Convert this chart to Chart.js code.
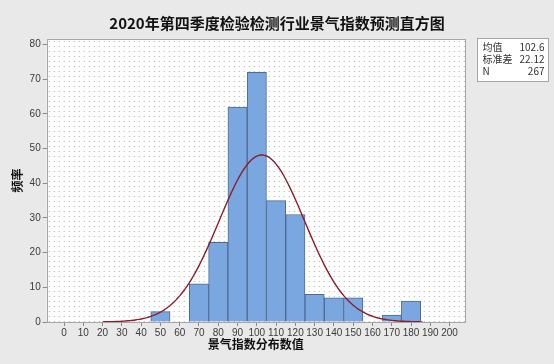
<!DOCTYPE html>
<html>
<head>
<meta charset="utf-8">
<script src="https://cdn.jsdelivr.net/npm/chart.js@4.4.1/dist/chart.umd.min.js"></script>
<style>
  html, body { margin: 0; padding: 0; background: #e9e9e9; }
  #wrap { width: 554px; height: 364px; position: relative; }
</style>
</head>
<body>
<div id="wrap"><canvas id="c" width="554" height="364"></canvas></div>
<script>
// Histogram bins (centre of each 10-wide bin) and their counts
const binCenters = [50, 60, 70, 80, 90, 100, 110, 120, 130, 140, 150, 160, 170, 180];
const binCounts  = [3, 0, 11, 23, 62, 72, 35, 31, 8, 7, 7, 0, 2, 6];
const binWidth = 10;

// Summary statistics shown in the legend box
const statLabels = ['均值', '标准差', 'N'];
const statValues = ['102.6', '22.12', '267'];
const fitMean = 102.6;
const fitSd = 22.12;
const fitN = 267;

// Axis tick labels
const xTicks = [0, 10, 20, 30, 40, 50, 60, 70, 80, 90, 100, 110, 120, 130, 140, 150, 160, 170, 180, 190, 200];
const yTicks = [0, 10, 20, 30, 40, 50, 60, 70, 80];

const chartTitle = '2020年第四季度检验检测行业景气指数预测直方图';

// Fitted normal curve, scaled to counts per bin
const curveXs = [];
for (let x = 20; x <= 186; x += 1) curveXs.push(x);
const curvePts = curveXs.map(x => ({
  x: x,
  y: fitN * binWidth / (fitSd * Math.sqrt(2 * Math.PI)) *
     Math.exp(-0.5 * Math.pow((x - fitMean) / fitSd, 2))
}));

const barPts = binCenters
  .map((c, i) => ({ x: c, y: binCounts[i] }))
  .filter(p => p.y > 0);

const tickFont = { family: '"Liberation Sans", sans-serif', size: 10 };

// dotted plot-area background
function dotPattern(ctx) {
  const p = document.createElement('canvas');
  p.width = 5; p.height = 5;
  const g = p.getContext('2d');
  g.fillStyle = '#ffffff';
  g.fillRect(0, 0, 5, 5);
  g.fillStyle = '#b0b0b0';
  g.fillRect(2, 2, 1, 1);
  return ctx.createPattern(p, 'repeat');
}

const frame = {
  id: 'frame',
  beforeDraw(chart) {
    const { ctx, chartArea: a } = chart;
    ctx.save();
    ctx.fillStyle = '#e9e9e9';
    ctx.fillRect(0, 0, chart.width, chart.height);
    ctx.fillStyle = dotPattern(ctx);
    ctx.translate(a.left, a.top);
    ctx.fillRect(0, 0, a.right - a.left, a.bottom - a.top);
    ctx.restore();
  },
  afterDraw(chart) {
    const { ctx, chartArea: a } = chart;
    ctx.save();
    // chart title
    ctx.fillStyle = '#111111';
    ctx.font = 'bold 15px "Noto Sans CJK SC", sans-serif';
    ctx.textAlign = 'center';
    ctx.textBaseline = 'middle';
    ctx.fillText(chartTitle, 277, 23);
    // plot frame
    ctx.strokeStyle = '#a6a6a6';
    ctx.lineWidth = 1;
    ctx.strokeRect(Math.round(a.left) + 0.5, Math.round(a.top) + 0.5,
                   Math.round(a.right - a.left), Math.round(a.bottom - a.top));
    // statistics box
    const bx = 477.5, by = 38.5, bw = 71, bh = 43;
    ctx.fillStyle = '#ffffff';
    ctx.fillRect(bx, by, bw, bh);
    ctx.strokeStyle = '#a6a6a6';
    ctx.strokeRect(bx, by, bw, bh);
    ctx.fillStyle = '#333333';
    ctx.font = '10px "Noto Sans CJK SC", "Open Sans", sans-serif';
    ctx.textBaseline = 'middle';
    statLabels.forEach((lab, i) => {
      const y = by + 9 + i * 12;
      ctx.textAlign = 'left';
      ctx.fillText(lab, bx + 5, y);
      ctx.textAlign = 'right';
      ctx.fillText(statValues[i], bx + bw - 4, y);
    });
    ctx.restore();
  }
};

new Chart(document.getElementById('c'), {
  type: 'bar',
  data: {
    datasets: [
      {
        type: 'line',
        data: curvePts,
        borderColor: '#8c1c2c',
        borderWidth: 1.4,
        pointRadius: 0,
        tension: 0,
        fill: false,
        order: 0
      },
      {
        type: 'bar',
        data: barPts,
        backgroundColor: '#7ba7e0',
        borderColor: '#4d6a91',
        borderWidth: 1,
        borderSkipped: 'bottom',
        barPercentage: 1,
        categoryPercentage: 1,
        order: 1
      }
    ]
  },
  options: {
    responsive: false,
    animation: false,
    layout: { padding: { left: 0, right: 89, top: 39, bottom: 0 } },
    plugins: {
      legend: { display: false },
      tooltip: { enabled: false },
      title: { display: false }
    },
    scales: {
      x: {
        type: 'linear',
        min: -9,
        max: 208,
        offset: false,
        afterBuildTicks(s) { s.ticks = xTicks.map(v => ({ value: v })); },
        afterFit(s) { s.height = 42; },
        grid: { display: true, drawOnChartArea: false, offset: false, tickLength: 4, color: '#8a8a8a' },
        border: { display: false },
        ticks: {
          color: '#3a3a3a',
          padding: 1,
          maxRotation: 0,
          autoSkip: false,
          font: tickFont
        },
        title: {
          display: true,
          text: '景气指数分布数值',
          color: '#111111',
          padding: { top: 0, bottom: 12 },
          font: { family: '"Noto Sans CJK SC", sans-serif', size: 12, weight: 'bold' }
        }
      },
      y: {
        min: 0,
        max: 81.6,
        afterBuildTicks(s) { s.ticks = yTicks.map(v => ({ value: v })); },
        afterFit(s) { s.width = 46.7; },
        grid: { display: true, drawOnChartArea: false, tickLength: 4, color: '#8a8a8a' },
        border: { display: false },
        ticks: {
          color: '#3a3a3a',
          padding: 2,
          font: tickFont
        },
        title: {
          display: true,
          text: '频率',
          color: '#111111',
          padding: { top: 10, bottom: 0 },
          font: { family: '"Noto Sans CJK SC", sans-serif', size: 12, weight: 'bold' }
        }
      }
    }
  },
  plugins: [frame]
});
</script>
</body>
</html>
